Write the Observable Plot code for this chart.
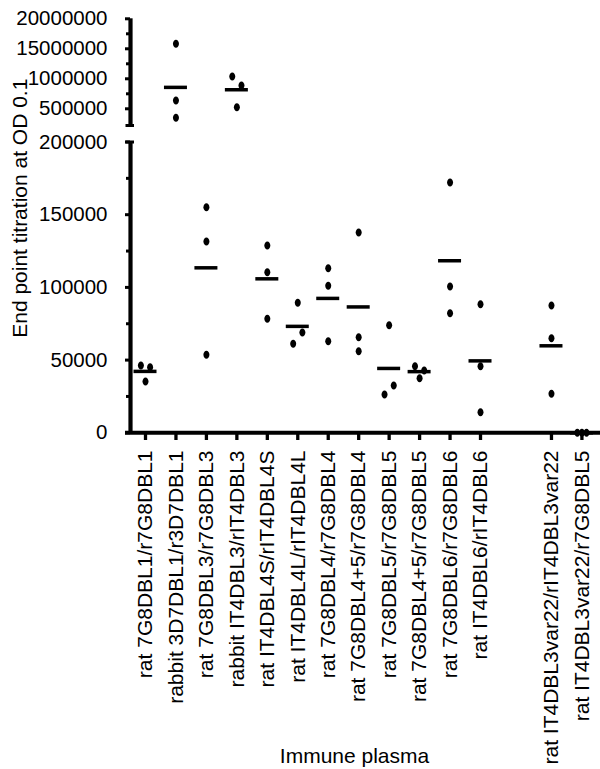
<!DOCTYPE html>
<html>
<head>
<meta charset="utf-8">
<script src="https://cdn.jsdelivr.net/npm/d3@7"></script>
<script src="https://cdn.jsdelivr.net/npm/@observablehq/plot@0.6"></script>
<style>
  html, body { margin: 0; padding: 0; background: #fff; }
  #chart { width: 600px; height: 769px; }
</style>
</head>
<body>
<div id="chart"></div>
<script>
// ---------- data ----------
const categories = [
  "rat 7G8DBL1/r7G8DBL1",
  "rabbit 3D7DBL1/r3D7DBL1",
  "rat 7G8DBL3/r7G8DBL3",
  "rabbit IT4DBL3/rIT4DBL3",
  "rat IT4DBL4S/rIT4DBL4S",
  "rat IT4DBL4L/rIT4DBL4L",
  "rat 7G8DBL4/r7G8DBL4",
  "rat 7G8DBL4+5/r7G8DBL4",
  "rat 7G8DBL5/r7G8DBL5",
  "rat 7G8DBL4+5/r7G8DBL5",
  "rat 7G8DBL6/r7G8DBL6",
  "rat IT4DBL6/rIT4DBL6",
  "rat IT4DBL3var22/rIT4DBL3var22",
  "rat IT4DBL3var22/r7G8DBL5"
];
// three replicate animals per immune plasma
const replicate1 = [46300, 1583000, 155200, 1038000, 128800, 89400, 113200, 137800, 74000, 45800, 172100, 88400, 87600, 0];
const replicate2 = [45100,  638300, 131600,  888300, 110500, 61200, 101100,  65800, 26300, 42800, 100600, 45800, 65100, 0];
const replicate3 = [35300,  350000,  53600,  526700,  78400, 69000,  63000,  56100, 32500, 37600,  82300, 14200, 26800, 0];

const yTickValues = [0, 50000, 100000, 150000, 200000, 500000, 1000000, 1500000, 2000000];
const yTickLabels = ["0", "50000", "100000", "150000", "200000", "500000", "1000000", "15000000", "20000000"];
const yMinorTicks = [25000, 75000, 125000, 175000, 750000, 1250000, 1750000];
const xTitle = "Immune plasma";
const yTitle = "End point titration at OD 0.1";

// ---------- layout ----------
const W = 600, H = 769;
const marginLeft = 130, marginTop = 18, marginBottom = 337;
const xDomain = [-0.4926, 14.94];
const ppu = (W - marginLeft) / (xDomain[1] - xDomain[0]); // px per category step
const axisPos = xDomain[0];
const breakTop = 221700; // lower end of the upper (broken) segment
const yDomain = [0, 200000, breakTop, 2000000];
const yRange = [432.3, 141.5, 125, 18.3];
const gapAfter = 12, gapSize = 1.33;
const pos = categories.map((c, i) => i < gapAfter ? i : i + gapSize);
const nameByPos = new Map(pos.map((p, i) => [p, categories[i]]));

// ---------- derived rows ----------
const yPix = d3.scaleLinear(yDomain, yRange);
const points = [];
const means = [];
categories.forEach((c, i) => {
  const vals = [replicate1[i], replicate2[i], replicate3[i]];
  means.push({pos: pos[i], mean: d3.mean(vals)});
  // side-by-side placement of dots that would overlap
  const order = vals.map((v, k) => ({v, k, py: yPix(v)})).sort((a, b) => a.py - b.py);
  const clusters = [];
  order.forEach(p => {
    const last = clusters[clusters.length - 1];
    if (last && p.py - last[last.length - 1].py < 12) last.push(p);
    else clusters.push([p]);
  });
  clusters.forEach(cl => {
    cl.sort((a, b) => a.k - b.k);
    const offs = cl.length === 1 ? [0] : cl.length === 2 ? [-1, 1] : [-1, 1, 0];
    cl.forEach((p, j) => points.push({x: pos[i] + offs[j] * 4.6 / ppu, y: p.v}));
  });
});

const ellipse = {
  draw(ctx) {
    const rx = 3, ry = 4, k = 0.5523, kx = rx * k, ky = ry * k;
    ctx.moveTo(rx, 0);
    ctx.bezierCurveTo(rx, ky, kx, ry, 0, ry);
    ctx.bezierCurveTo(-kx, ry, -rx, ky, -rx, 0);
    ctx.bezierCurveTo(-rx, -ky, -kx, -ry, 0, -ry);
    ctx.bezierCurveTo(kx, -ry, rx, -ky, rx, 0);
    ctx.closePath();
  }
};

const labelByValue = new Map(yTickValues.map((v, i) => [v, yTickLabels[i]]));

const chart = Plot.plot({
  width: W, height: H,
  marginLeft, marginRight: 0, marginTop, marginBottom,
  style: {fontFamily: "'Liberation Sans', Arial, sans-serif", background: "#fff", color: "#000"},
  x: {type: "linear", domain: xDomain, axis: null},
  y: {type: "linear", domain: yDomain, range: yRange, axis: null},
  marks: [
    // axis lines (broken y axis)
    Plot.ruleX([{y1: 0, y2: 200000}, {y1: breakTop, y2: 2000000}], {x: axisPos, y1: "y1", y2: "y2", stroke: "#000", strokeWidth: 4.2}),
    Plot.ruleY([0], {x1: axisPos - 5 / ppu, x2: xDomain[1], stroke: "#000", strokeWidth: 4}),
    Plot.ruleY([200000, breakTop], {x1: axisPos - 4.5 / ppu, x2: axisPos + 4 / ppu, stroke: "#000", strokeWidth: 3}),
    Plot.ruleY(yMinorTicks, {x1: axisPos - 4 / ppu, x2: axisPos, stroke: "#000", strokeWidth: 3}),
    Plot.axisY(yTickValues, {
      anchor: "left", label: null, tickSize: 5, tickPadding: 18, fontSize: 20.5,
      strokeWidth: 3, tickFormat: d => labelByValue.get(d)
    }),
    Plot.axisX(pos, {
      anchor: "bottom", label: null, tickSize: 8, tickPadding: 10, fontSize: 21,
      strokeWidth: 3.3, tickRotate: -90, tickFormat: d => nameByPos.get(d)
    }),
    // titles
    Plot.text([yTitle], {frameAnchor: "left", rotate: -90, textAnchor: "middle", lineAnchor: "middle",
      dx: 19.5 - marginLeft, dy: -17.3, fontSize: 21, fill: "#000"}),
    Plot.text([xTitle], {frameAnchor: "bottom", textAnchor: "middle", lineAnchor: "bottom",
      dx: -11, dy: 330.3, fontSize: 21, fill: "#000"}),
    // data
    Plot.ruleY(means, {y: "mean", x1: d => d.pos - 11.5 / ppu, x2: d => d.pos + 11.5 / ppu, stroke: "#000", strokeWidth: 3.5}),
    Plot.dot(points, {x: "x", y: "y", symbol: ellipse, fill: "#000", stroke: "none"})
  ]
});
document.getElementById("chart").appendChild(chart);
</script>
</body>
</html>
